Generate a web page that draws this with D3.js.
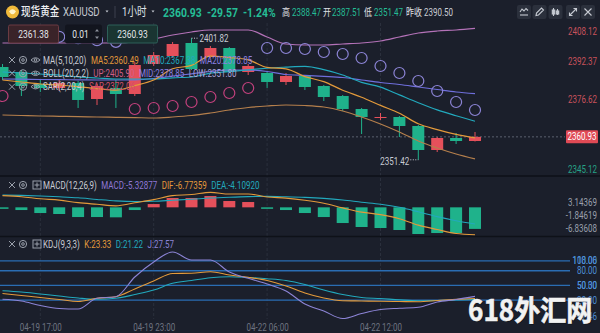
<!DOCTYPE html>
<html>
<head>
<meta charset="utf-8">
<script src="https://cdn.jsdelivr.net/npm/d3@7/dist/d3.min.js"></script>
<style>
  html, body { margin: 0; padding: 0; background: #1b1f2b; overflow: hidden; }
  svg { display: block; }
  text { font-family: Roboto, "Noto Sans CJK SC", "Noto Sans", sans-serif; }
</style>
</head>
<body>
<svg id="chart" width="600" height="333"></svg>
<script>
// ---- hourly bars, XAUUSD ----
const times = ["04-19 15:00","04-19 16:00","04-19 17:00","04-19 18:00","04-19 19:00","04-19 20:00",
  "04-19 21:00","04-19 22:00","04-19 23:00","04-20 00:00","04-20 01:00","04-20 02:00","04-20 03:00",
  "04-20 04:00","04-22 06:00","04-22 07:00","04-22 08:00","04-22 09:00","04-22 10:00","04-22 11:00",
  "04-22 12:00","04-22 13:00","04-22 14:00","04-22 15:00","04-22 16:00","04-22 17:00"];
const timeTicks = ["04-19 17:00","04-19 23:00","04-22 06:00","04-22 12:00"];

const opens  = [2389.88,2387.81,2382.84,2381.18,2383.25,2376.62,2381.18,2378.69,2391.13,2394.44,2399.83,2394.03,2397.76,
                2387.81,2387.40,2383.67,2386.15,2382.01,2377.86,2372.48,2368.95,2369.16,2365.43,2355.48,2360.46,2359.21];
const highs  = [2391.13,2388.64,2384.50,2384.50,2384.08,2382.84,2384.50,2391.96,2396.10,2400.25,2401.82,2398.59,2398.17,
                2391.13,2387.81,2387.40,2386.57,2382.42,2378.28,2372.89,2370.82,2369.57,2365.84,2360.87,2362.53,2362.94];
const lows   = [2384.50,2377.86,2379.52,2379.94,2372.89,2374.13,2372.89,2377.86,2390.30,2393.61,2388.64,2393.61,2387.40,
                2386.57,2381.18,2382.42,2380.35,2375.79,2371.65,2362.11,2367.92,2360.87,2351.42,2354.65,2357.97,2359.01];
const closes = [2385.74,2382.01,2381.18,2383.25,2376.21,2382.01,2378.69,2390.71,2394.86,2399.42,2389.05,2397.76,2387.81,
                2390.30,2383.67,2386.15,2381.59,2377.45,2372.48,2369.16,2369.16,2365.43,2355.48,2360.46,2359.21,2360.93];

// moving averages
const ma5  = [2384.50,2383.67,2382.84,2382.42,2381.68,2380.93,2380.27,2382.17,2384.50,2389.14,2390.55,2394.36,2393.78,
              2392.87,2389.72,2389.14,2385.90,2383.83,2380.27,2377.37,2373.97,2370.74,2366.34,2363.94,2361.95,2360.49];
const ma10 = [2387.81,2387.40,2386.98,2386.57,2385.74,2385.32,2384.91,2384.91,2384.91,2385.41,2385.74,2387.31,2387.98,
              2388.68,2389.43,2389.84,2390.13,2388.81,2386.57,2383.54,2381.55,2378.32,2375.09,2372.10,2369.66,2367.38];
const ma20 = [2384.91,2384.83,2384.70,2384.62,2384.58,2384.50,2384.50,2384.58,2385.12,2386.15,2387.06,2388.02,2388.64,
              2388.64,2388.02,2386.77,2386.44,2386.03,2385.53,2384.50,2383.46,2382.63,2381.59,2380.56,2379.52,2378.85];
// Bollinger bands (the middle band is the 20-bar mean, drawn by ma20)
const bollUp  = [2399.83,2399.83,2399.83,2399.83,2399.83,2399.83,2399.83,2400.25,2401.49,2403.15,2404.39,2405.22,2405.22,
                 2405.22,2402.32,2399.42,2399.00,2399.00,2399.42,2399.83,2400.66,2402.32,2403.98,2404.80,2405.22,2405.90];
const bollLow = [2369.99,2369.78,2369.57,2369.45,2369.33,2369.16,2369.04,2368.91,2368.75,2369.16,2369.78,2370.82,2372.06,
                 2373.10,2373.72,2374.13,2373.93,2373.31,2371.65,2369.16,2366.26,2362.94,2359.21,2356.31,2353.82,2351.80];
// parabolic SAR
const sar = [2377.86,2403.50,2403.00,2402.40,2401.80,2401.00,2400.30,2372.48,2372.89,2373.72,2375.38,2377.45,2379.11,
             2381.18,2397.76,2397.76,2397.34,2396.10,2395.27,2393.61,2390.30,2387.40,2384.08,2379.94,2375.38,2372.06];

// MACD(12,26,9)
const macdHist = [-0.30,-0.67,-1.41,-1.65,-2.40,-2.40,-2.47,-0.67,0.81,2.30,2.30,2.79,1.56,1.31,-0.30,-0.67,-1.41,
                  -2.40,-3.88,-4.86,-5.11,-5.60,-6.59,-6.35,-6.35,-5.32877];
const dif = [2.90,2.62,2.10,1.78,1.15,0.75,0.37,1.12,1.90,2.90,3.15,3.70,3.28,3.30,2.55,2.27,1.75,1.00,-0.14,-1.18,
             -1.80,-2.80,-4.40,-5.48,-6.48,-6.77359];
const dea = [3.05,2.95,2.80,2.60,2.35,1.95,1.60,1.45,1.50,1.75,2.00,2.30,2.50,2.65,2.70,2.60,2.45,2.20,1.80,1.25,
             0.75,0.00,-1.10,-2.30,-3.30,-4.10920];
const macdTicks = [3.14369,-1.84619,-6.83608];

// KDJ(9,3,3)
const kVals = [33.49,29.41,25.34,21.26,17.18,23.71,26.97,42.66,58.96,74.25,74.65,77.91,71.19,66.50,59.98,48.77,34.51,
               24.32,18.81,18.20,17.59,17.18,16.78,19.22,21.50,23.33];
const dVals = [39.19,36.54,32.47,28.39,24.32,21.67,23.71,31.45,40.62,54.27,59.98,65.69,67.72,66.09,63.65,59.98,51.83,
               40.62,31.45,25.34,23.30,20.65,18.81,19.22,20.24,21.22];
const jVals = [21.67,18.20,9.03,2.92,1.90,23.71,26.97,67.11,97.68,118.06,101.76,101.76,77.30,64.46,52.85,38.58,12.09,
               -2.18,-17.46,-7.27,0.88,3.33,5.36,16.17,21.26,27.57];
const kdjLevels = [100, 80, 50, 20];
const kdjTicks = [118.06, 50.30, -17.46];

const priceTicks = [2408.12, 2392.37, 2376.62, 2345.12];
const lastPrice = 2360.93;

// quote header
const quote = { name: "现货黄金", code: "XAUUSD", period: "1小时", last: "2360.93", change: "-29.57", pct: "-1.24%",
  high: "2388.47", open: "2387.51", low: "2351.47", prevClose: "2390.50", bid: "2361.38", lot: "0.01", ask: "2360.93" };

// ---- style ----
const C = {
  up: "#e5505b", down: "#1fb28b", ma5: "#e39a3b", ma10: "#22a9bd", ma20: "#6f6fdc",
  bollUp: "#b472b8", bollLow: "#b57f4c", sarBelow: "#c3417d", sarAbove: "#8c84d6",
  text: "#c9ccd4", dim: "#9aa0ab", grid: "#2b303d", level: "#2a6db3", levelText: "#4d8fd6",
  axisAbove: "#c8525c", axisBelow: "#26a287", teal: "#25bd96", macd: "#8f78d6", j: "#8c84d6"
};
const SX = 0.8; // narrow text

const svg = d3.select("#chart");

const x   = d3.scalePoint().domain(times).range([2.5, 475]);
const yP  = d3.scaleLinear().domain([2345.12, 2408.12]).range([175, 23]);
const yM  = d3.scaleLinear().domain([-6.83608, 3.14369]).range([235, 194.6]);
const yK  = d3.scaleLinear().domain([-17.46, 118.06]).range([318.5, 252]);
const bodyW = 12;

function label(parent, px, py, s, o = {}) {
  const t = parent.append("g")
    .attr("transform", `translate(${px},${py}) scale(${o.sx || SX},1)`)
    .append("text")
    .attr("dy", "0.35em")
    .attr("text-anchor", o.anchor || "start")
    .attr("font-size", o.size || 10)
    .attr("font-weight", o.weight || 400)
    .attr("fill", o.fill || C.text)
    .text(s);
  return t;
}
function chain(parent, x0, py, items, gap = 4.5) {
  let cx = x0;
  items.forEach(([s, fill]) => {
    const t = label(parent, cx, py, s, { fill });
    cx += t.node().getComputedTextLength() * SX + gap;
  });
}

// ---- grid & separators ----
const grid = svg.append("g");
timeTicks.forEach(t => {
  grid.append("line").attr("x1", x(t)).attr("x2", x(t)).attr("y1", 23).attr("y2", 319)
    .attr("stroke", C.grid).attr("stroke-dasharray", "3,2");
});
[176, 236.5].forEach(yy => {
  svg.append("line").attr("x1", 0).attr("x2", 600).attr("y1", yy).attr("y2", yy)
    .attr("stroke", "#0e1118").attr("stroke-width", 1.5);
});
svg.append("line").attr("x1", 0).attr("x2", 565).attr("y1", yP(lastPrice)).attr("y2", yP(lastPrice))
  .attr("stroke", "#5b606e").attr("stroke-dasharray", "2,2");

// ---- candles ----
const cg = svg.append("g");
times.forEach((t, i) => {
  const up = closes[i] >= opens[i];
  const col = up ? C.up : C.down;
  cg.append("line").attr("x1", x(t)).attr("x2", x(t)).attr("y1", yP(highs[i])).attr("y2", yP(lows[i]))
    .attr("stroke", col).attr("stroke-width", 1);
  const top = yP(Math.max(opens[i], closes[i])), bot = yP(Math.min(opens[i], closes[i]));
  cg.append("rect").attr("x", x(t) - bodyW / 2).attr("y", top).attr("width", bodyW)
    .attr("height", Math.max(1, bot - top)).attr("fill", col);
});

// ---- overlays ----
function drawLine(vals, ys, color, w = 1.2) {
  svg.append("path").datum(vals)
    .attr("d", d3.line().x((d, i) => x(times[i])).y(d => ys(d)).curve(d3.curveMonotoneX))
    .attr("fill", "none").attr("stroke", color).attr("stroke-width", w);
}
drawLine(bollUp, yP, C.bollUp);
drawLine(bollLow, yP, C.bollLow);
drawLine(ma20, yP, C.ma20);
drawLine(ma10, yP, C.ma10);
drawLine(ma5, yP, C.ma5);

svg.append("g").selectAll("circle").data(sar).join("circle")
  .attr("cx", (d, i) => x(times[i])).attr("cy", d => yP(d)).attr("r", 5.5)
  .attr("fill", "none").attr("stroke-width", 1.2)
  .attr("stroke", (d, i) => d > closes[i] ? C.sarAbove : C.sarBelow);

// extreme marks
const iHi = d3.maxIndex(highs), iLo = d3.minIndex(lows);
const hx = x(times[iHi]), hy = yP(highs[iHi]);
svg.append("line").attr("x1", hx).attr("x2", hx + 7).attr("y1", hy).attr("y2", hy)
  .attr("stroke", C.text).attr("stroke-dasharray", "1,1.5");
label(svg, hx + 8, hy, highs[iHi].toFixed(2), { fill: C.text });
const lx = x(times[iLo]), ly = yP(lows[iLo]);
svg.append("line").attr("x1", lx - 8).attr("x2", lx).attr("y1", ly).attr("y2", ly)
  .attr("stroke", C.text).attr("stroke-dasharray", "1,1.5");
label(svg, lx - 9, ly + 1.5, lows[iLo].toFixed(2), { fill: C.text, anchor: "end" });

// ---- MACD pane ----
const z = yM(0);
svg.append("g").selectAll("rect").data(macdHist).join("rect")
  .attr("x", (d, i) => x(times[i]) - bodyW / 2).attr("width", bodyW)
  .attr("y", d => d >= 0 ? yM(d) : z)
  .attr("height", d => Math.max(1.5, Math.abs(yM(d) - z)))
  .attr("fill", d => d >= 0 ? C.up : C.down);
drawLine(dea, yM, C.ma10, 1.1);
drawLine(dif, yM, C.ma5, 1.1);

// ---- KDJ pane ----
kdjLevels.forEach(v => {
  svg.append("line").attr("x1", 0).attr("x2", 570).attr("y1", yK(v)).attr("y2", yK(v))
    .attr("stroke", C.level).attr("stroke-width", 1.4);
});
drawLine(dVals, yK, C.ma10, 1.1);
drawLine(kVals, yK, C.ma5, 1.1);
drawLine(jVals, yK, C.j, 1.1);

// ---- axes ----
function styleAxis(g, colorOf, edgeShift) {
  g.select(".domain").remove();
  g.selectAll(".tick line").remove();
  g.selectAll(".tick text")
    .attr("text-anchor", "end").attr("x", 0).attr("dy", "0.35em")
    .attr("y", d => edgeShift(d))
    .attr("transform", `scale(${SX},1)`)
    .attr("font-size", 10)
    .attr("fill", d => colorOf(d));
}
const axP = svg.append("g").attr("transform", "translate(597,0)")
  .call(d3.axisRight(yP).tickValues(priceTicks).tickSize(0).tickPadding(0).tickFormat(d => d.toFixed(2)));
styleAxis(axP, d => d > lastPrice ? C.axisAbove : C.axisBelow,
  d => d === d3.max(priceTicks) ? 7.7 : d === d3.min(priceTicks) ? -6 : 0);

// last price badge
const ly0 = yP(lastPrice);
svg.append("rect").attr("x", 566).attr("y", ly0 - 6.5).attr("width", 32).attr("height", 13)
  .attr("fill", "#e04a55").attr("rx", 1);
label(svg, 582, ly0, lastPrice.toFixed(2), { fill: "#ffffff", anchor: "middle" });

const axM = svg.append("g").attr("transform", "translate(597,0)")
  .call(d3.axisRight(yM).tickValues(macdTicks).tickSize(0).tickPadding(0).tickFormat(d => d.toFixed(5)));
styleAxis(axM, () => C.dim,
  d => d === d3.max(macdTicks) ? 7 : d === d3.min(macdTicks) ? -6.7 : 0);

const axK = svg.append("g").attr("transform", "translate(597,0)")
  .call(d3.axisRight(yK).tickValues(kdjTicks).tickSize(0).tickPadding(0).tickFormat(d => d.toFixed(2)));
styleAxis(axK, () => C.levelText,
  d => d === d3.max(kdjTicks) ? 8 : d === d3.min(kdjTicks) ? -3 : 0);
kdjLevels.forEach(v => label(svg, 597, yK(v), v.toFixed(2), { fill: C.levelText, anchor: "end" }));

const axT = svg.append("g").attr("transform", "translate(0,327)")
  .call(d3.axisBottom(x).tickValues(timeTicks).tickSize(0).tickPadding(0));
axT.select(".domain").remove();
axT.selectAll(".tick text").attr("y", 0).attr("dy", "0.35em").attr("font-size", 10)
  .attr("fill", "#6e7380").attr("transform", `scale(${SX},1)`);

// ---- legend rows ----
function icons(py, third) {
  const g = svg.append("g").attr("stroke", C.dim).attr("fill", "none").attr("stroke-width", 1);
  g.append("path").attr("d", `M9,${py - 3}L15,${py + 3}M15,${py - 3}L9,${py + 3}`);
  g.append("circle").attr("cx", 23).attr("cy", py).attr("r", 3.6);
  g.append("circle").attr("cx", 23).attr("cy", py).attr("r", 1.3);
  if (third === "eye") {
    g.append("path").attr("d", `M31,${py}Q35.5,${py - 4.5} 40,${py}Q35.5,${py + 4.5} 31,${py}Z`);
    g.append("circle").attr("cx", 35.5).attr("cy", py).attr("r", 1.3);
  } else {
    g.append("rect").attr("x", 33).attr("y", py - 4).attr("width", 8).attr("height", 8);
    g.append("path").attr("d", `M37,${py - 2.5}V${py + 2.5}M34.5,${py}H39.5`);
  }
}
icons(60, "eye");
chain(svg, 43, 60, [["MA(5,10,20)", C.text], ["MA5:" + ma5[25].toFixed(2), C.ma5],
  ["MA10:" + ma10[25].toFixed(2), C.ma10], ["MA20:" + ma20[25].toFixed(2), "#8c80e0"]]);
icons(73.3, "eye");
chain(svg, 43, 73.3, [["BOLL(20,2,2)", C.text], ["UP:" + bollUp[25].toFixed(2), "#cf5f86"],
  ["MID:" + ma20[25].toFixed(2), "#8c80e0"], ["LOW:" + bollLow[25].toFixed(2), "#a9a3d8"]]);
icons(86.7, "eye");
chain(svg, 43, 86.7, [["SAR(2,20,4)", C.text], ["SAR:" + sar[25].toFixed(2), "#d0506a"]]);

icons(185, "box");
chain(svg, 43, 185, [["MACD(12,26,9)", C.text], ["MACD:" + macdHist[25].toFixed(5), C.macd],
  ["DIF:" + dif[25].toFixed(5), C.ma5], ["DEA:" + dea[25].toFixed(5), C.ma10]]);
icons(244, "box");
chain(svg, 43, 244, [["KDJ(9,3,3)", C.text], ["K:" + kVals[25].toFixed(2), C.ma5],
  ["D:" + dVals[25].toFixed(2), C.ma10], ["J:" + jVals[25].toFixed(2), C.j]]);

// ---- order boxes ----
function box(x0, w, fill, stroke, s) {
  svg.append("rect").attr("x", x0).attr("y", 25).attr("width", w).attr("height", 18)
    .attr("fill", fill).attr("stroke", stroke).attr("rx", 1.5);
  label(svg, x0 + w / 2 - (s === quote.lot ? 3 : 0), 34, s, { fill: "#e4e6ea", anchor: "middle", size: 10.5 });
}
box(8.5, 50, "#3a2329", "#6b3b42", quote.bid);
box(65.5, 36, "#12151e", "#12151e", quote.lot);
svg.append("path").attr("d", "M95,31.5L97,29L99,31.5Z M95,36.5L97,39L99,36.5Z").attr("fill", "#8a8f9a");
box(107.5, 50, "#1a3532", "#2d6058", quote.ask);

// ---- header ----
svg.append("circle").attr("cx", 12.5).attr("cy", 12).attr("r", 6.5).attr("fill", "#f0b93a");
svg.append("path").attr("d", "M9,11.5Q12.5,7 16,11.5Q12.5,17 9,11.5Z").attr("fill", "#fff3c8");
label(svg, 21, 12, quote.name, { size: 12, weight: 500, fill: "#eef0f3" });
label(svg, 63, 12, quote.code, { size: 12, fill: "#c4c8d0" });
svg.append("path").attr("d", "M105.5,10.5L108.5,10.5L107,12.5Z").attr("fill", "#c4c8d0");
svg.append("line").attr("x1", 115).attr("x2", 115).attr("y1", 6).attr("y2", 18).attr("stroke", "#3c414e");
label(svg, 122, 12, quote.period, { size: 12, fill: "#dfe2e8" });
svg.append("path").attr("d", "M151.5,10.5L154.5,10.5L153,12.5Z").attr("fill", "#c4c8d0");
label(svg, 163, 12, quote.last, { size: 13, weight: 700, fill: C.teal });
label(svg, 207, 12, quote.change, { size: 13, weight: 700, fill: C.teal });
label(svg, 243, 12, quote.pct, { size: 13, weight: 700, fill: C.teal });
label(svg, 282, 12, "高", { fill: "#e0e2e6" });
label(svg, 292, 12, quote.high, { fill: C.teal });
label(svg, 323, 12, "开", { fill: "#e0e2e6" });
label(svg, 332, 12, quote.open, { fill: C.teal });
label(svg, 364, 12, "低", { fill: "#e0e2e6" });
label(svg, 374, 12, quote.low, { fill: C.teal });
label(svg, 406, 12, "昨收", { fill: "#e0e2e6" });
label(svg, 424, 12, quote.prevClose, { fill: C.text });

// toolbar buttons
const tb = svg.append("g");
[524, 539.5, 555.5, 573, 588].forEach((cx, k) => {
  tb.append("rect").attr("x", cx - 7).attr("y", 5).attr("width", 14).attr("height", 14)
    .attr("rx", 2).attr("fill", "#2b303c");
  const g = tb.append("g").attr("transform", `translate(${cx},12)`).attr("stroke", "#c6cad2")
    .attr("fill", "none").attr("stroke-width", 1.1);
  if (k === 0) { g.append("path").attr("d", "M-4,0L-2,-3L0,-1L2,-3.5L4,-1.5"); g.append("path").attr("d", "M-4,3H4"); }
  if (k === 1) { g.append("path").attr("d", "M-3.5,3.5L-3,1L2,-4L4,-2L-1,3Z"); }
  if (k === 2) { g.append("path").attr("d", "M-2,-4V4M2,-3V3"); g.append("rect").attr("x", -3.2).attr("y", -2).attr("width", 2.4).attr("height", 4).attr("fill", "#c6cad2");
                 g.append("rect").attr("x", 0.8).attr("y", -1).attr("width", 2.4).attr("height", 3).attr("fill", "#c6cad2"); }
  if (k === 3) { g.append("path").attr("d", "M-3.5,3.5L3.5,-3.5M0.5,-3.5H3.5V-0.5M-3.5,0.5V3.5H-0.5"); }
  if (k === 4) { g.append("path").attr("d", "M-3.5,-3.5L3.5,3.5M3.5,-3.5L-3.5,3.5"); }
});

// ---- site mark ----
const wm = svg.append("g").attr("transform", "translate(468,321) scale(0.9,1)");
wm.append("text").attr("x", 1).attr("y", 1).attr("font-size", 29).attr("font-weight", 700)
  .attr("fill", "#000").attr("opacity", 0.35).style("font-family", '"Noto Sans CJK SC", sans-serif').text("618外汇网");
wm.append("text").attr("font-size", 29).attr("font-weight", 700)
  .attr("fill", "#f2f2f2").attr("stroke", "#f2f2f2").attr("stroke-width", 0.6)
  .style("font-family", '"Noto Sans CJK SC", sans-serif').text("618外汇网");
</script>
</body>
</html>
